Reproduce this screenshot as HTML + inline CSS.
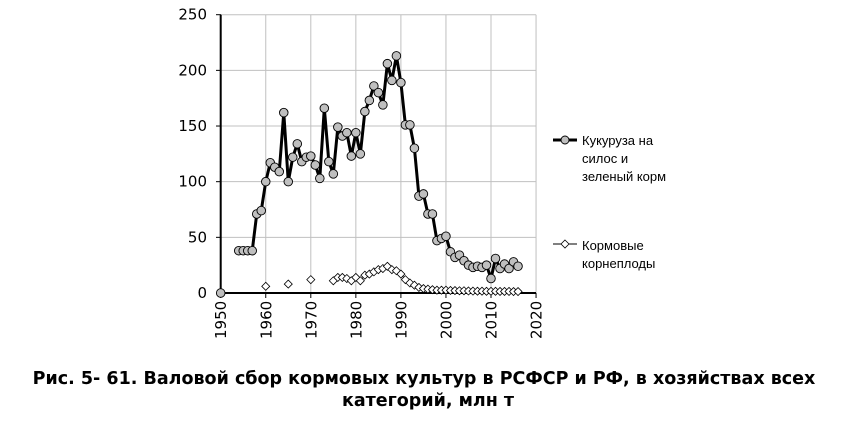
<!DOCTYPE html>
<html><head><meta charset="utf-8"><style>
body{margin:0;background:#fff;width:857px;height:422px;overflow:hidden}
svg{display:block}
</style></head><body>
<svg id="s" width="857" height="422" xmlns="http://www.w3.org/2000/svg" font-family="'DejaVu Sans', sans-serif"></svg>
<script>
const s=document.getElementById('s');
const X=y=>220.7+(y-1950)*4.505, Y=v=>293-v*1.1132;
let h='';
for(let yr=1960;yr<=2020;yr+=10)h+=`<line x1="${X(yr)}" y1="${Y(250)}" x2="${X(yr)}" y2="293" stroke="#c0c0c0" stroke-width="1"/>`;
for(let v=50;v<=250;v+=50)h+=`<line x1="220.7" y1="${Y(v)}" x2="536" y2="${Y(v)}" stroke="#c0c0c0" stroke-width="1"/>`;
h+=`<line x1="220.7" y1="${Y(250)}" x2="220.7" y2="293" stroke="#000" stroke-width="2"/>`;
h+=`<line x1="220.7" y1="293" x2="536" y2="293" stroke="#000" stroke-width="2"/>`;
for(let v=0;v<=250;v+=50){h+=`<line x1="216" y1="${Y(v)}" x2="221" y2="${Y(v)}" stroke="#000"/><text x="207" y="${Y(v)+5}" font-size="15" text-anchor="end">${v}</text>`;}
for(let yr=1950;yr<=2020;yr+=10){h+=`<line x1="${X(yr)}" y1="293" x2="${X(yr)}" y2="298" stroke="#000"/><text transform="translate(${X(yr)+5.5},339) rotate(-90)" font-size="15">${yr}</text>`;}
const c={1954:38,1955:38,1956:38,1957:38,1958:71,1959:74,1960:100,1961:117,1962:113,1963:109,1964:162,1965:100,1966:122,1967:134,1968:118,1969:122,1970:123,1971:115,1972:103,1973:166,1974:118,1975:107,1976:149,1977:141,1978:144,1979:123,1980:144,1981:125,1982:163,1983:173,1984:186,1985:180,1986:169,1987:206,1988:191,1989:213,1990:189,1991:151,1992:151,1993:130,1994:87,1995:89,1996:71,1997:71,1998:47,1999:49,2000:51,2001:37,2002:32,2003:34,2004:29,2005:25,2006:23,2007:24,2008:23,2009:25,2010:13,2011:31,2012:22,2013:26,2014:22,2015:28,2016:24};
const d={1960:6,1965:8,1970:12,1975:11,1976:14,1977:14,1978:13,1979:11,1980:14,1981:11,1982:16,1983:17,1984:19,1985:21,1986:22,1987:24,1988:21,1989:20,1990:17,1991:12,1992:9,1993:7,1994:5,1995:4,1996:3.5,1997:3,1998:2.5,1999:2.5,2000:2.5,2001:2.3,2002:2.2,2003:2,2004:2,2005:1.8,2006:1.7,2007:1.6,2008:1.6,2009:1.5,2010:1.5,2011:1.5,2012:1.4,2013:1.4,2014:1.4,2015:1.3,2016:1.3};
const dia=(x,y)=>`<path d="M${x} ${y-4}L${x+4} ${y}L${x} ${y+4}L${x-4} ${y}Z" fill="#fff" stroke="#000" stroke-width="0.8"/>`;
const dk=Object.keys(d).map(Number);
let p=dk.filter(k=>k>=1975).map(k=>`${X(k)},${Y(d[k])}`).join(' ');
h+=`<polyline points="${p}" fill="none" stroke="#000" stroke-width="0.8"/>`;
dk.forEach(k=>h+=dia(X(k),Y(d[k])));
const ck=Object.keys(c).map(Number);
p=ck.map(k=>`${X(k)},${Y(c[k])}`).join(' ');
h+=`<polyline points="${p}" fill="none" stroke="#000" stroke-width="3" stroke-linejoin="round"/>`;
ck.forEach(k=>h+=`<circle cx="${X(k)}" cy="${Y(c[k])}" r="4.3" fill="#bfbfbf" stroke="#000" stroke-width="0.9"/>`);
h+=`<circle cx="${X(1950)}" cy="293" r="4.3" fill="#bfbfbf" stroke="#000" stroke-width="0.9"/>`;
h+=`<line x1="553" y1="140" x2="577" y2="140" stroke="#000" stroke-width="3"/><circle cx="565" cy="140" r="4" fill="#bfbfbf" stroke="#000" stroke-width="0.9"/>`;
h+=`<g font-family="'Liberation Sans',sans-serif" font-size="13"><text x="582" y="145">Кукуруза на</text><text x="582" y="163">силос и</text><text x="582" y="181">зеленый корм</text><text x="582" y="250">Кормовые</text><text x="582" y="268">корнеплоды</text></g>`;
h+=`<line x1="553" y1="244" x2="577" y2="244" stroke="#000" stroke-width="1"/>`+dia(565,244);
h+=`<g font-size="17.5" font-weight="bold" text-anchor="middle"><text x="424" y="384">Рис. 5- 61. Валовой сбор кормовых культур в РСФСР и РФ, в хозяйствах всех</text><text x="428" y="406">категорий, млн т</text></g>`;
s.innerHTML=h;
</script>
</body></html>
